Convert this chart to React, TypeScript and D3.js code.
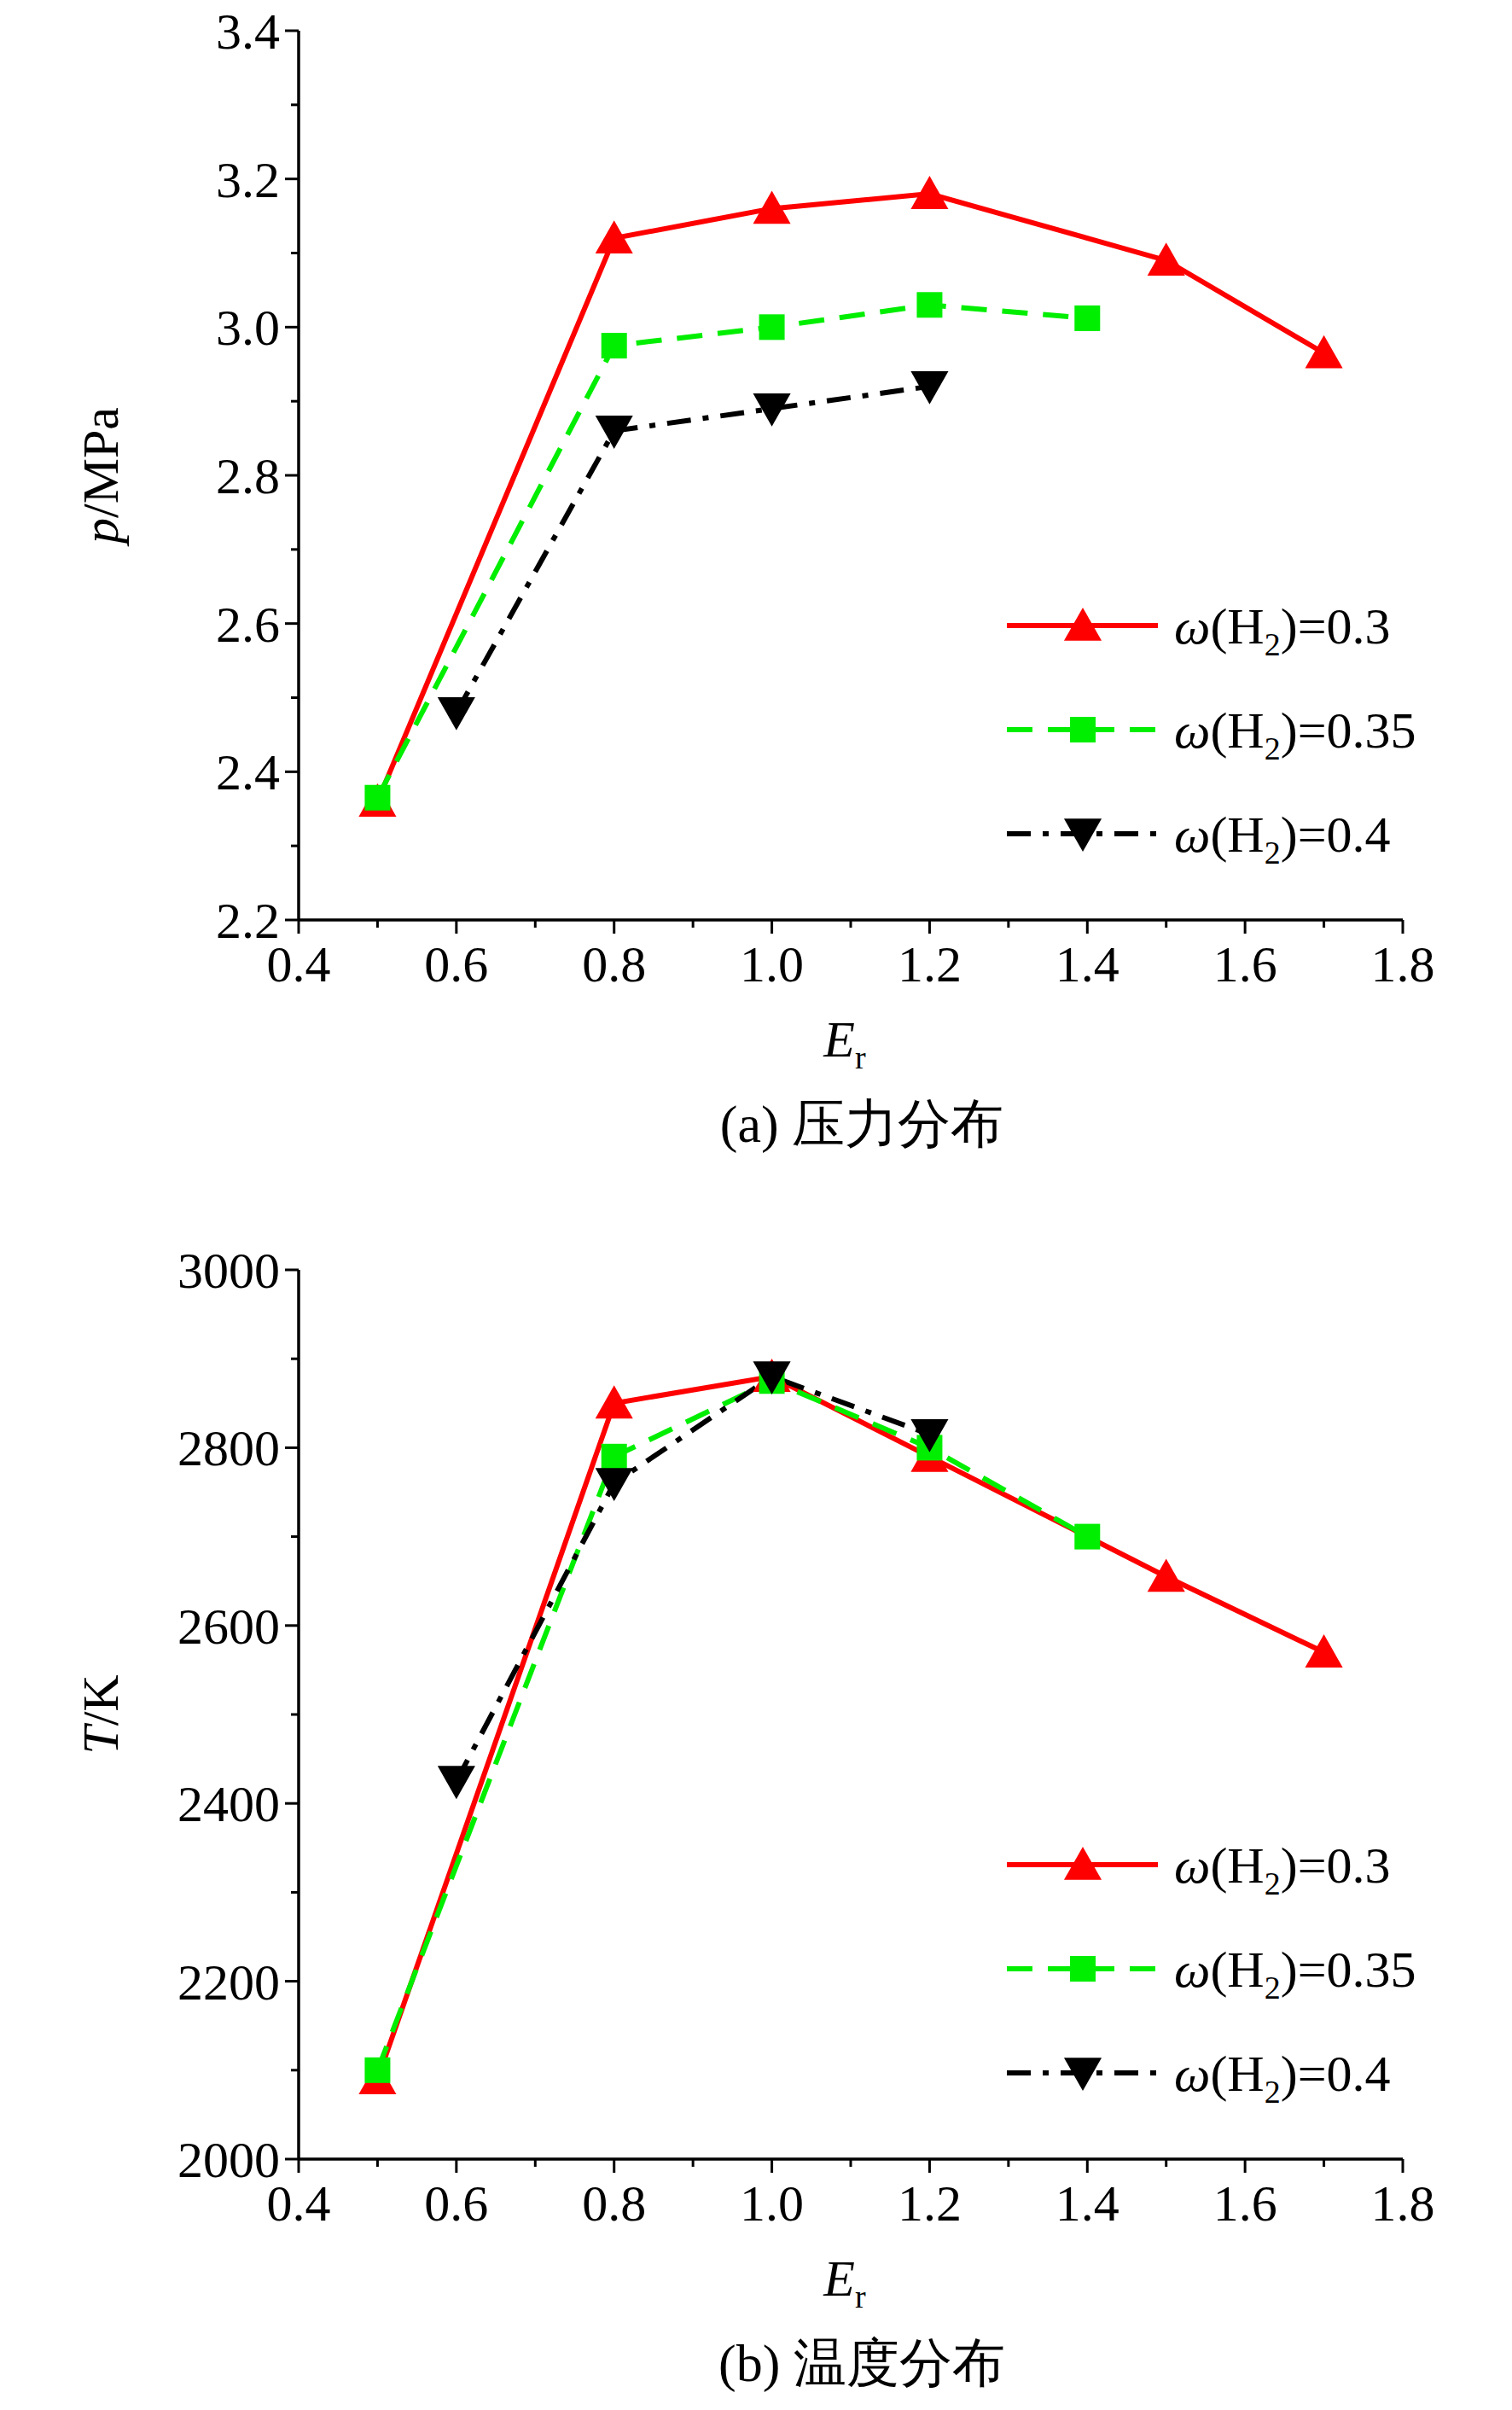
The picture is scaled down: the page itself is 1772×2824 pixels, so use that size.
import { useEffect, useRef } from 'react'
import * as d3 from 'd3'

const X_TICKS = [0.4, 0.6, 0.8, 1.0, 1.2, 1.4, 1.6, 1.8]
const LEGEND = ['0.3', '0.35', '0.4']

const P_RED: [number, number][] = [[0.5, 2.36], [0.8, 3.12], [1.0, 3.16], [1.2, 3.18], [1.5, 3.09], [1.7, 2.965]]
const P_GREEN: [number, number][] = [[0.5, 2.365], [0.8, 2.975], [1.0, 3.0], [1.2, 3.03], [1.4, 3.012]]
const P_BLACK: [number, number][] = [[0.6, 2.48], [0.8, 2.86], [1.0, 2.89], [1.2, 2.92]]
const P_TICKS = [2.2, 2.4, 2.6, 2.8, 3.0, 3.2, 3.4]

const T_RED: [number, number][] = [[0.5, 2090], [0.8, 2850], [1.0, 2880], [1.2, 2790], [1.5, 2655], [1.7, 2570]]
const T_GREEN: [number, number][] = [[0.5, 2100], [0.8, 2790], [1.0, 2875], [1.2, 2800], [1.4, 2700]]
const T_BLACK: [number, number][] = [[0.6, 2425], [0.8, 2760], [1.0, 2880], [1.2, 2815]]
const T_TICKS = [2000, 2200, 2400, 2600, 2800, 3000]

const STYLES = [
  { color: '#ff0000', dash: null as string | null, marker: 'up' },
  { color: '#00ee00', dash: '30,18', marker: 'sq' },
  { color: '#000000', dash: '28,14,7,14', marker: 'down' },
]
const FONT = '"Liberation Serif", "Times New Roman", serif'
const FS = 60

export default function App() {
  const ref = useRef<SVGSVGElement>(null)
  useEffect(() => {
    const svg = d3.select(ref.current!)
    svg.selectAll('*').remove()
    const W = 1772, H = 2824
    svg.attr('width', W).attr('height', H).style('font-family', FONT)

    const x = d3.scaleLinear().domain([0.4, 1.8]).range([350, 1644])

    const marker = (g: any, type: string, cx: number, cy: number, color: string) => {
      const s = 21
      if (type === 'sq') {
        g.append('rect').attr('x', cx - 15).attr('y', cy - 15).attr('width', 30).attr('height', 30).attr('fill', color)
      } else {
        const d = type === 'up'
          ? `M${cx},${cy - s}L${cx + s * 1.05},${cy + s * 0.85}L${cx - s * 1.05},${cy + s * 0.85}Z`
          : `M${cx},${cy + s}L${cx + s * 1.05},${cy - s * 0.85}L${cx - s * 1.05},${cy - s * 0.85}Z`
        g.append('path').attr('d', d).attr('fill', color)
      }
    }

    const panel = (
      y0: number, y1: number, domain: [number, number], ticks: number[], fmt: (v: number) => string,
      series: [number, number][][], ylabel: [string, string], caption: string, legendY: number,
    ) => {
      const y = d3.scaleLinear().domain(domain).range([y1, y0])
      const g = svg.append('g')
      const step = ticks[1] - ticks[0]
      g.append('line').attr('x1', 350).attr('x2', 350).attr('y1', y0).attr('y2', y1).attr('stroke', '#000').attr('stroke-width', 3.5)
      g.append('line').attr('x1', 350).attr('x2', 1644).attr('y1', y1).attr('y2', y1).attr('stroke', '#000').attr('stroke-width', 3.5)
      d3.range(domain[0], domain[1] + step / 4, step / 2).forEach((v, i) => {
        const len = i % 2 === 0 ? 16 : 9
        g.append('line').attr('x1', 350 - len).attr('x2', 350).attr('y1', y(v)).attr('y2', y(v)).attr('stroke', '#000').attr('stroke-width', 3)
      })
      ticks.forEach(v => {
        g.append('text').attr('x', 328).attr('y', y(v)).attr('dy', '0.35em').attr('text-anchor', 'end').attr('font-size', FS).text(fmt(v))
      })
      d3.range(0.4, 1.8 + 0.05, 0.1).forEach((v, i) => {
        const len = i % 2 === 0 ? 16 : 9
        g.append('line').attr('x1', x(v)).attr('x2', x(v)).attr('y1', y1).attr('y2', y1 + len).attr('stroke', '#000').attr('stroke-width', 3)
      })
      X_TICKS.forEach(v => {
        g.append('text').attr('x', x(v)).attr('y', y1 + 72).attr('text-anchor', 'middle').attr('font-size', FS).text(v.toFixed(1))
      })
      const yl = g.append('text').attr('transform', `translate(138,${(y0 + y1) / 2}) rotate(-90)`).attr('text-anchor', 'middle').attr('font-size', FS)
      yl.append('tspan').attr('font-style', 'italic').text(ylabel[0])
      yl.append('tspan').text(ylabel[1])
      const xl = g.append('text').attr('x', 990).attr('y', y1 + 160).attr('text-anchor', 'middle').attr('font-size', FS)
      xl.append('tspan').attr('font-style', 'italic').text('E')
      xl.append('tspan').attr('font-size', 38).attr('dy', 14).text('r')
      g.append('text').attr('x', 1010).attr('y', y1 + 260).attr('text-anchor', 'middle').attr('font-size', 62).text(caption)

      const line = d3.line<[number, number]>().x(d => x(d[0])).y(d => y(d[1]))
      series.forEach((s, i) => {
        const st = STYLES[i]
        g.append('path').attr('d', line(s)).attr('fill', 'none').attr('stroke', st.color).attr('stroke-width', 6)
          .attr('stroke-dasharray', st.dash)
      })
      series.forEach((s, i) => s.forEach(d => marker(g, STYLES[i].marker, x(d[0]), y(d[1]), STYLES[i].color)))

      LEGEND.forEach((lab, i) => {
        const ly = legendY + i * 122
        const st = STYLES[i]
        g.append('line').attr('x1', 1180).attr('x2', 1357).attr('y1', ly).attr('y2', ly).attr('stroke', st.color).attr('stroke-width', 6).attr('stroke-dasharray', st.dash)
        marker(g, st.marker, 1269, ly, st.color)
        const t = g.append('text').attr('x', 1376).attr('y', ly).attr('dy', '0.35em').attr('font-size', FS)
        t.append('tspan').attr('font-style', 'italic').text('ω')
        t.append('tspan').text('(H')
        t.append('tspan').attr('font-size', 38).attr('dy', 14).text('2')
        t.append('tspan').attr('dy', -14).text(`)=${lab}`)
      })
    }

    panel(36, 1078, [2.2, 3.4], P_TICKS, v => v.toFixed(1), [P_RED, P_GREEN, P_BLACK], ['p', '/MPa'], '(a) 压力分布', 733)
    panel(1488, 2530, [2000, 3000], T_TICKS, v => String(v), [T_RED, T_GREEN, T_BLACK], ['T', '/K'], '(b) 温度分布', 2185)
  }, [])
  return <svg ref={ref} style={{ display: 'block', margin: '-8px' }} />
}
